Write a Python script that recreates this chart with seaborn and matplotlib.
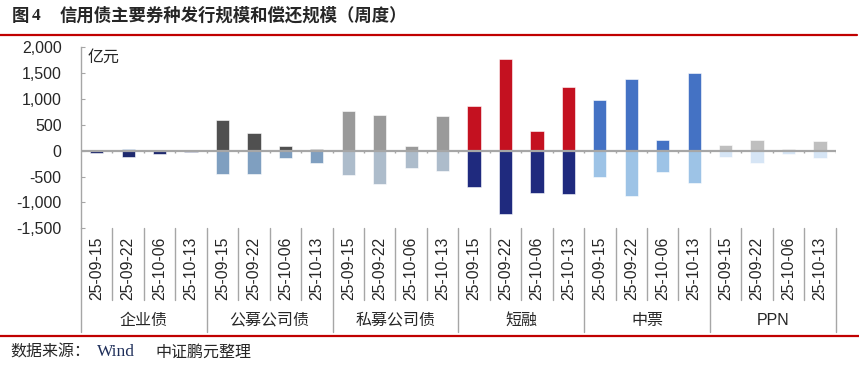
import matplotlib
matplotlib.use("Agg")
import matplotlib.pyplot as plt
import matplotlib.transforms as mtransforms
from matplotlib.lines import Line2D
from matplotlib.ticker import FuncFormatter
import numpy as np
import pandas as pd
import seaborn as sns

# data (亿元)
groups = ["企业债", "公募公司债", "私募公司债", "短融", "中票", "PPN"]
dates = ["25-09-15", "25-09-22", "25-10-06", "25-10-13"]
issue = [5, 30, 5, 5,
         585, 335, 85, 30,
         765, 680, 85, 660,
         860, 1760, 385, 1235,
         985, 1385, 205, 1490,
         110, 205, 30, 180]
repay = [-40, -115, -65, -35,
         -450, -450, -140, -245,
         -470, -645, -340, -395,
         -695, -1220, -825, -845,
         -515, -870, -420, -625,
         -115, -245, -65, -140]
issue_colors = ["#4A7AB8", "#505050", "#9A9A9A", "#C41120", "#4472C4", "#BFBFBF"]
repay_colors = ["#1F2A6E", "#7F9FC0", "#ADBCCB", "#1F2A7E", "#9DC3E6", "#D6E5F5"]

sns.set_style("white")
plt.rcParams["font.family"] = ["Liberation Sans", "Noto Sans CJK SC"]

keys = [f"{g} {d}" for g in groups for d in dates]
df = pd.DataFrame({
    "key": keys,
    "group": [g for g in groups for d in dates],
    "date": [d for g in groups for d in dates],
    "issue": issue,
    "repay": repay,
})
pal_issue = {k: issue_colors[i // 4] for i, k in enumerate(keys)}
pal_repay = {k: repay_colors[i // 4] for i, k in enumerate(keys)}

fig = plt.figure(figsize=(8.59, 3.65), dpi=100)
W, H = 859, 365
ax_l, ax_r, ax_t, ax_b = 81, 835.7, 47, 228.3
ax = fig.add_axes([ax_l / W, 1 - ax_b / H, (ax_r - ax_l) / W, (ax_b - ax_t) / H])

for col, pal in (("issue", pal_issue), ("repay", pal_repay)):
    sns.barplot(data=df, x="key", y=col, hue="key", order=keys, hue_order=keys,
                palette=pal, dodge=False, legend=False, width=0.42, saturation=1,
                edgecolor="white", linewidth=0.4, ax=ax)

ax.set_xlim(-0.5, len(keys) - 0.5)
ax.set_ylim(-1500, 2000)
ax.set_yticks(np.arange(-1500, 2001, 500))
ax.yaxis.set_major_formatter(FuncFormatter(lambda v, p: f"{v:,.0f}"))
ax.tick_params(axis="y", direction="in", length=3, color="#A6A6A6",
               labelsize=11.5, pad=14, left=True)
ax.set_xticks(range(len(keys)))
ax.set_xticklabels(df["date"], rotation=90, fontsize=11.3, va="top")
ax.tick_params(axis="x", length=0, pad=6.3)
ax.set_xlabel("")
ax.set_ylabel("")
for s in ["top", "right", "bottom"]:
    ax.spines[s].set_visible(False)
ax.spines["left"].set_color("#A6A6A6")
ax.spines["left"].set_linewidth(1.0)

grey = "#A6A6A6"
ax.axhline(0, color=grey, lw=1.6, zorder=5)
bounds = np.arange(-0.5, len(keys))
ax.vlines(bounds[1:], -45, 0, color=grey, lw=1.0, zorder=5)

trans = mtransforms.blended_transform_factory(ax.transData, ax.transAxes)
h_ax = ax_b - ax_t
inner_bot = -(300 - ax_b) / h_ax
outer_bot = -(332 - ax_b) / h_ax
for b in bounds:
    bot = outer_bot if int(b + 0.5) % 4 == 0 else inner_bot
    ax.plot([b, b], [0, bot], color=grey, lw=1.0, transform=trans, clip_on=False)

for i, g in enumerate(groups):
    ax.text(i * 4 + 1.5, -(320 - ax_b) / h_ax, g, transform=trans,
            ha="center", va="center", fontsize=11.5)

ax.text(88 / W, 1 - 57 / H, "亿元", transform=fig.transFigure,
        ha="left", va="center", fontsize=11.5)

# title and frame lines
fig.text(12 / W, 1 - 16 / H, "图", fontsize=12.5, weight="bold",
         family=["Noto Sans CJK SC"], va="center")
fig.text(32 / W, 1 - 16 / H, "4", fontsize=12.5, weight="bold",
         family=["Liberation Serif"], va="center")
fig.text(60 / W, 1 - 16 / H, "信用债主要券种发行规模和偿还规模（周度）",
         fontsize=12.5, weight="bold", family=["Noto Sans CJK SC"], va="center")
fig.add_artist(Line2D([0, 857 / W], [1 - 35 / H] * 2, color="#C00000", lw=1.6))
fig.add_artist(Line2D([0, 1], [1 - 335.5 / H] * 2, color="#C00000", lw=1.6))

fig.text(10 / W, 1 - 352 / H, "数据来源：", fontsize=11.5,
         family=["Noto Sans CJK SC"], va="center")
fig.text(97 / W, 1 - 352 / H, "Wind", fontsize=12.5,
         family=["Liberation Serif"], va="center", color="#1F2F5A")
fig.text(155 / W, 1 - 352 / H, "中证鹏元整理", fontsize=11.5,
         family=["Noto Sans CJK SC"], va="center")

fig.savefig("out.png", dpi=100)
